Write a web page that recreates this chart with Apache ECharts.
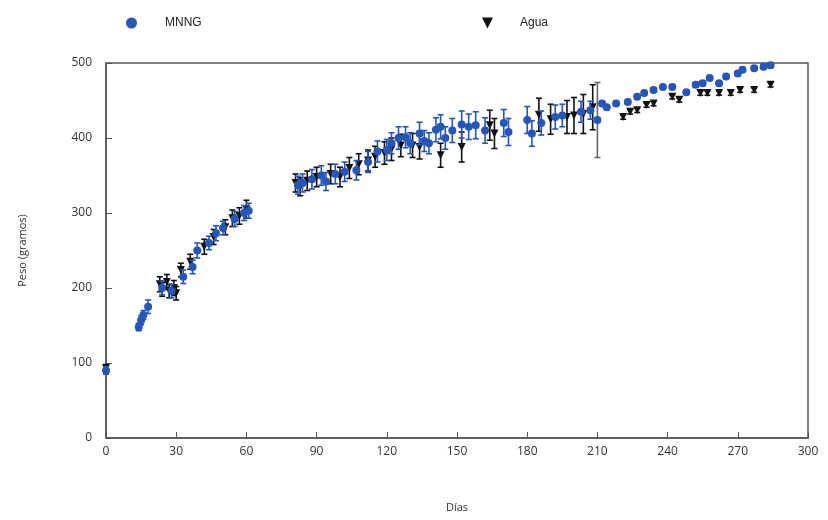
<!DOCTYPE html>
<html>
<head>
<meta charset="utf-8">
<script src="https://cdn.jsdelivr.net/npm/echarts@6/dist/echarts.min.js"></script>
<style>
  html, body { margin: 0; padding: 0; background: #fff; }
  #chart { width: 828px; height: 520px; }
</style>
</head>
<body>
<div id="chart"></div>
<script>
// MNNG (azul)
const mnngDays = [0, 14, 15, 16, 18, 24, 28, 33, 37, 39, 44, 47, 50, 55, 59, 61,
  82, 84, 88, 92, 94, 98, 102, 107, 112, 116, 120, 122, 125, 128, 130, 134, 136, 138, 141, 143, 145, 148,
  152, 155, 158, 162, 170, 172, 180, 182, 186, 192, 195, 203, 207, 210,
  212, 214, 218, 223, 227, 230, 234, 238, 242, 248, 252, 255, 258, 262, 265, 270, 272, 277, 281, 284]
const mnngPeso = [90, 148, 157, 164, 175, 200, 196, 215, 228, 250, 260, 273, 280, 292, 300, 303,
  337, 340, 345, 350, 342, 352, 355, 357, 368, 382, 384, 393, 400, 401, 393, 406, 396, 393, 411, 415, 400, 410,
  418, 415, 417, 410, 420, 408, 424, 406, 420, 428, 430, 435, 437, 424,
  446, 441, 446, 448, 455, 460, 464, 468, 468, 461, 471, 473, 480, 473, 482, 486, 491, 493, 495, 497]
const mnngErr = [5, 5, 6, 6, 9, 9, 9, 9, 9, 10, 9, 10, 9, 10, 10, 10,
  12, 12, 13, 13, 12, 13, 13, 13, 14, 14, 14, 14, 15, 14, 14, 15, 14, 14, 16, 16, 15, 16,
  18, 17, 18, 17, 18, 18, 18, 17, 16, 16, 15, 14, 12, 50,
  3, 3, 3, 3, 3, 3, 3, 3, 3, 3, 3, 3, 3, 3, 3, 3, 3, 3, 3, 3]

// Agua (negro)
const aguaDays = [0, 23, 24, 26, 27, 29, 30, 32, 36, 42, 46, 51, 54, 57, 60,
  81, 83, 86, 90, 96, 100, 104, 108, 112, 115, 119, 122, 126, 131, 134, 143, 152, 164, 166,
  185, 190, 197, 200, 204, 208,
  221, 224, 227, 231, 234, 242, 245, 254, 257, 262, 267, 271, 277, 284]
const aguaPeso = [93, 205, 198, 208, 196, 200, 193, 224, 235, 255, 268, 281, 293, 296, 305,
  340, 335, 343, 348, 352, 348, 360, 365, 370, 375, 380, 385, 390, 390, 388, 377, 388, 417, 406,
  431, 425, 428, 430, 432, 441,
  428, 435, 437, 444, 446, 455, 451, 460, 460, 460, 460, 464, 464, 471]
const aguaErr = [5, 10, 9, 10, 9, 10, 9, 9, 10, 10, 10, 10, 11, 11, 12,
  12, 12, 13, 13, 13, 13, 14, 14, 14, 14, 15, 15, 15, 16, 16, 16, 20, 20, 20,
  22, 20, 22, 24, 26, 30,
  3, 3, 3, 3, 3, 3, 3, 3, 3, 3, 3, 3, 3, 3]

const xTicks = [0, 30, 60, 90, 120, 150, 180, 210, 240, 270, 300]
const yTicks = [0, 100, 200, 300, 400, 500]

const BLUE = '#2656b6'
const BLACK = '#111111'

function points(days, vals) {
  return days.map((d, i) => [d, vals[i]])
}
function bars(days, vals, errs) {
  return days.map((d, i) => [d, vals[i] - errs[i], vals[i] + errs[i]])
}
function errorBars(color) {
  return function (params, api) {
    const lo = api.coord([api.value(0), api.value(1)])
    const hi = api.coord([api.value(0), api.value(2)])
    const w = 3
    // la barra enorme de ~210 dias sale gris en el original
    const c = (hi[1] - lo[1]) < -60 ? '#666' : color
    const style = { stroke: c, lineWidth: 1.6 }
    return {
      type: 'group',
      children: [
        { type: 'line', shape: { x1: lo[0], y1: lo[1], x2: hi[0], y2: hi[1] }, style },
        { type: 'line', shape: { x1: hi[0] - w, y1: hi[1], x2: hi[0] + w, y2: hi[1] }, style },
        { type: 'line', shape: { x1: lo[0] - w, y1: lo[1], x2: lo[0] + w, y2: lo[1] }, style }
      ]
    }
  }
}

const myChart = echarts.init(document.getElementById('chart'))
const axisFont = '"Open Sans", "DejaVu Sans", sans-serif'

myChart.setOption({
  animation: false,
  legend: [
    {
      data: [{ name: 'MNNG', icon: 'circle' }],
      left: 121, top: 12,
      itemWidth: 11, itemHeight: 11,
      textStyle: { fontFamily: 'Liberation Sans, Arial', fontSize: 12, color: '#222', padding: [0, 0, 0, 23] }
    },
    {
      data: [{ name: 'Agua', icon: 'path://M0,0 L10,0 L5,10 Z' }],
      left: 477, top: 12,
      itemWidth: 11, itemHeight: 11,
      textStyle: { fontFamily: 'Liberation Sans, Arial', fontSize: 12, color: '#222', padding: [0, 0, 0, 22] }
    }
  ],
  grid: {
    left: 106, right: 20, top: 63, bottom: 82,
    show: true, borderColor: '#555', borderWidth: 1.5
  },
  xAxis: {
    type: 'value', min: 0, max: 300, interval: 30,
    name: 'Días', nameLocation: 'middle', nameGap: 64,
    nameTextStyle: { fontFamily: axisFont, fontSize: 11, color: '#333' },
    axisLine: { lineStyle: { color: '#555', width: 1.5 } },
    axisTick: { inside: true, length: 6, lineStyle: { color: '#555' } },
    axisLabel: {
      margin: 8, fontFamily: axisFont, fontSize: 12, color: '#333',
      formatter: v => (xTicks.includes(v) ? String(v) : '')
    },
    splitLine: { show: false }
  },
  yAxis: {
    type: 'value', min: 0, max: 500, interval: 100,
    name: 'Peso (gramos)', nameLocation: 'middle', nameGap: 78,
    nameTextStyle: { fontFamily: axisFont, fontSize: 11, color: '#333' },
    axisLine: { show: true, lineStyle: { color: '#555', width: 1.5 } },
    axisTick: { show: true, inside: true, length: 6, lineStyle: { color: '#555' } },
    axisLabel: {
      margin: 14, fontFamily: axisFont, fontSize: 12, color: '#333',
      formatter: v => (yTicks.includes(v) ? String(v) : '')
    },
    splitLine: { show: false }
  },
  series: [
    {
      name: 'Agua-err', type: 'custom',
      renderItem: errorBars(BLACK),
      data: bars(aguaDays, aguaPeso, aguaErr), z: 2
    },
    {
      name: 'Agua', type: 'scatter',
      symbol: 'triangle', symbolRotate: 180, symbolSize: 8,
      itemStyle: { color: BLACK, opacity: 1 },
      data: points(aguaDays, aguaPeso), z: 3
    },
    {
      name: 'MNNG-err', type: 'custom',
      renderItem: errorBars(BLUE),
      data: bars(mnngDays, mnngPeso, mnngErr), z: 4
    },
    {
      name: 'MNNG', type: 'scatter',
      symbol: 'circle', symbolSize: 8,
      itemStyle: { color: BLUE, opacity: 1 },
      data: points(mnngDays, mnngPeso), z: 5
    }
  ]
})
</script>
</body>
</html>
